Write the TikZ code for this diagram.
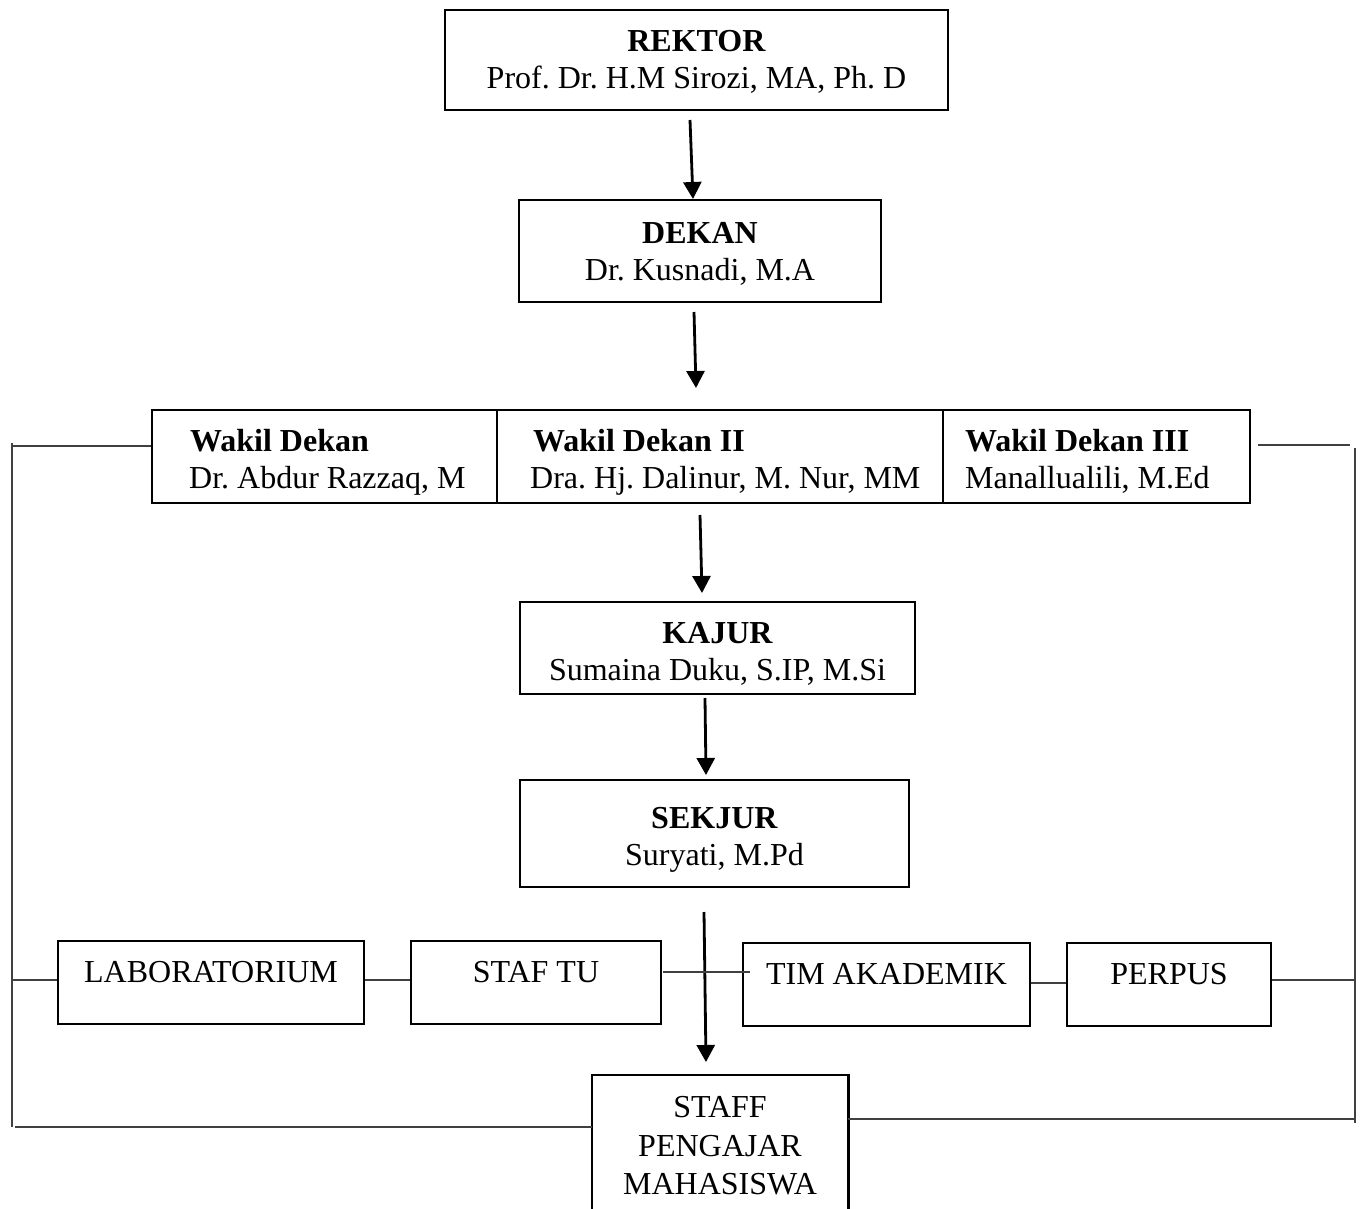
\documentclass[tikz,border=0pt]{standalone}
\usepackage{fontspec}
\setmainfont{Liberation Serif}
\usetikzlibrary{arrows.meta}
\frenchspacing
\begin{document}
\begin{tikzpicture}[x=1pt,y=-1pt,
  box/.style={draw,line width=2.6pt,inner sep=0pt},
  txt/.style={inner sep=0pt,font=\fontsize{32}{37}\selectfont\frenchspacing,align=center},
  ltxt/.style={inner sep=0pt,anchor=base west,font=\fontsize{32}{37}\selectfont\frenchspacing},
  conn/.style={line width=1.3pt,draw=black!75},
  arr/.style={line width=2.8pt,-{Triangle[length=17pt,width=18pt]}}]
\useasboundingbox (0,0) rectangle (1360,1209);
\clip (0,0) rectangle (1360,1209);
% boxes
\node[box,minimum width=503pt,minimum height=100pt] (rektor) at (696.5,60) {};
\node[txt] (rektorT) at (696.5,62) {\textbf{REKTOR}\\Prof. Dr. H.M Sirozi, MA, Ph. D};
\node[box,minimum width=362pt,minimum height=102pt] (dekan) at (700,251) {};
\node[txt] (dekanT) at (700,254) {\textbf{DEKAN}\\Dr. Kusnadi, M.A};
\node[box,minimum width=1098pt,minimum height=93pt] (wakil) at (701,456.5) {};
\draw[line width=1.3pt] (497,410) -- (497,503);
\draw[line width=1.3pt] (943,410) -- (943,503);
\node[ltxt] (w1a) at (190,451) {\textbf{Wakil Dekan}};
\node[ltxt] (w1b) at (189,488) {Dr. Abdur Razzaq, M};
\node[ltxt] (w2a) at (533,451) {\textbf{Wakil Dekan II}};
\node[ltxt] (w2b) at (530,488) {Dra. Hj. Dalinur, M. Nur, MM};
\node[ltxt] (w3a) at (965,451) {\textbf{Wakil Dekan III}};
\node[ltxt] (w3b) at (965,488) {Manallualili, M.Ed};
\node[box,minimum width=395pt,minimum height=92pt] (kajur) at (717.5,648) {};
\node[txt] (kajurT) at (717.5,654) {\textbf{KAJUR}\\Sumaina Duku, S.IP, M.Si};
\node[box,minimum width=389pt,minimum height=107pt] (sekjur) at (714.5,833.5) {};
\node[txt] (sekjurT) at (714.5,840) {\textbf{SEKJUR}\\Suryati, M.Pd};
\node[box,minimum width=306pt,minimum height=83pt] (lab) at (211,982.5) {};
\node[txt] (labT) at (211,972) {LABORATORIUM};
\node[box,minimum width=250pt,minimum height=83pt] (tu) at (536,982.5) {};
\node[txt] (tuT) at (536,972) {STAF TU};
\node[box,minimum width=287pt,minimum height=83pt] (tim) at (886.5,984.5) {};
\node[txt] (timT) at (886.5,974) {TIM AKADEMIK};
\node[box,minimum width=204pt,minimum height=83pt] (perpus) at (1169,984.5) {};
\node[txt] (perpusT) at (1169,974) {PERPUS};
\node[inner sep=0pt,minimum width=256pt,minimum height=160pt] (staff) at (720,1155) {};
\draw[line width=2.6pt] (staff.south west) -- (staff.north west) -- (staff.north east) -- (staff.south east);
\node[txt,font=\fontsize{32}{38.5}\selectfont] (staffT) at (720,1146) {STAFF\\PENGAJAR\\MAHASISWA};
% arrows
\coordinate (a1s) at (690,120); \coordinate (a1e) at (693,199);
\coordinate (a2s) at (694,312); \coordinate (a2e) at (696,388);
\coordinate (a3s) at (700,515); \coordinate (a3e) at (702,593);
\coordinate (a4s) at (705,698); \coordinate (a4e) at (706,775);
\coordinate (a5s) at (704,912); \coordinate (a5e) at (706,1062);
\draw[arr] (a1s) -- (a1e);
\draw[arr] (a2s) -- (a2e);
\draw[arr] (a3s) -- (a3e);
\draw[arr] (a4s) -- (a4e);
\draw[arr] (a5s) -- (a5e);
% side frame
\coordinate (lt) at (12,446); \coordinate (lb) at (12,1127);
\coordinate (lm) at (12,980); \coordinate (lbb) at (15,1127);
\coordinate (rt) at (1350,445); \coordinate (rtv) at (1355,448);
\coordinate (rb) at (1355,1123); \coordinate (rm) at (1355,980);
\coordinate (rbb) at (1355,1119);
\draw[conn] (wakil.west |- 0,446) -- (lt);
\draw[conn] (12,443) -- (lb);
\draw[conn] (lab.west |- 0,980) -- (lm);
\draw[conn] (lbb) -- (staff.west |- 0,1127);
\draw[conn] (1258,445) -- (rt);
\draw[conn] (rtv) -- (rb);
\draw[conn] (perpus.east |- 0,980) -- (rm);
\draw[conn] (staff.east |- 0,1119) -- (rbb);
% row connectors
\draw[conn] (lab.east |- 0,980) -- (tu.west |- 0,980);
\draw[conn] (663,972) -- (750,972);
\draw[conn] (tim.east |- 0,983) -- (perpus.west |- 0,983);
\end{tikzpicture}
\end{document}
